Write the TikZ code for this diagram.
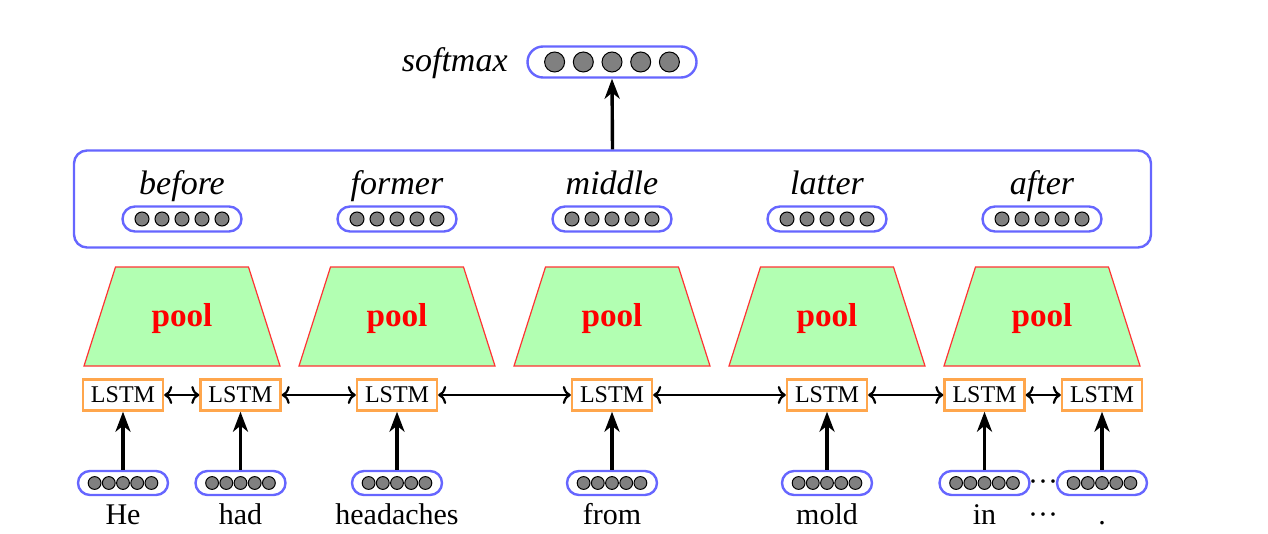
\documentclass[tikz,border=0pt]{standalone}
\usepackage{fontspec}
\setmainfont{Liberation Serif}
\usetikzlibrary{shapes.misc,arrows.meta}

\begin{document}
\begin{tikzpicture}[x=0.5pt,y=-0.5pt,
    vec/.style={draw=blue!60,line width=1.2pt,rounded rectangle,inner sep=0pt},
    dot/.style={fill=black!50,draw=black,line width=0.5pt},
    lstm/.style={draw=orange!70,line width=1.2pt,fill=white,inner sep=0pt,minimum width=40pt,minimum height=15.5pt,font=\fontsize{12}{14}\selectfont},
    pool/.style={fill=green!30,draw=red!80,line width=0.6pt},
    pooltxt/.style={anchor=base,text=red,font=\fontsize{16.6}{19}\selectfont\bfseries},
    word/.style={anchor=base,font=\fontsize{15}{18}\selectfont},
    lab/.style={anchor=base,font=\fontsize{17}{20}\selectfont\itshape},
    up/.style={-{Stealth[length=10pt,width=7.5pt,inset=3pt]},line width=1.7pt},
    bi/.style={{To[length=4pt,width=9pt]}-{To[length=4pt,width=9pt]},line width=1.1pt}]
  \useasboundingbox (0,0) rectangle (1268,534);

  % softmax on top
  \node[vec,minimum width=84.5pt,minimum height=15.5pt] (sm) at (612,62) {};
  \node[lab,anchor=base east,inner sep=0pt] (smlab) at (508,72) {softmax};
  \foreach \i in {-2,...,2}
    \filldraw[dot] ({612+\i*28.7},62) circle (5pt);

  % pooled features
  \node[draw=blue!60,line width=1.2pt,rounded corners=6.5pt,minimum width=538.5pt,minimum height=48.5pt] (feat) at (612.5,199) {};
  \draw[up] (feat.north) -- (sm.south);

  \foreach \x/\n in {182/before,397/former,612/middle,827/latter,1042/after}{
    \node[lab] (l\n) at (\x,195) {\n};
    \node[vec,minimum width=59.5pt,minimum height=12.5pt] (v\n) at (\x,219) {};
    \foreach \i in {-2,...,2}
      \filldraw[dot] ({\x+\i*20},219) circle (3.5pt);
    \filldraw[pool] ({\x-66.5},267) -- ({\x+66.5},267) -- ({\x+98},366) -- ({\x-98},366) -- cycle;
    \node[pooltxt] (p\n) at (\x,326) {pool};
  }

  % LSTM layer
  \node[lstm] (h1) at (123,395) {LSTM};
  \node[lstm] (h2) at (240.5,395) {LSTM};
  \node[lstm] (h3) at (397,395) {LSTM};
  \node[lstm] (h4) at (612,395) {LSTM};
  \node[lstm] (h5) at (827,395) {LSTM};
  \node[lstm] (h6) at (984.5,395) {LSTM};
  \node[lstm] (h7) at (1102,395) {LSTM};

  \draw[bi] (h1) -- (h2);
  \draw[bi] (h2) -- (h3);
  \draw[bi] (h3) -- (h4);
  \draw[bi] (h4) -- (h5);
  \draw[bi] (h5) -- (h6);
  \draw[bi] (h6) -- (h7);

  % word embeddings
  \foreach \k/\x/\w in {1/123/He,2/240.5/had,3/397/headaches,4/612/from,5/827/mold,6/984.5/in,7/1102/.}{
    \node[vec,minimum width=45pt,minimum height=12pt] (e\k) at (\x,483) {};
    \foreach \i in {-2,...,2}
      \filldraw[dot] ({\x+\i*14.2},483) circle (3.2pt);
    \node[word] (w\k) at (\x,524) {\w};
    \draw[up] (e\k) -- (h\k);
  }
  \node[word] (edots) at (1043,491) {\textperiodcentered\textperiodcentered\textperiodcentered};
  \node[word] (wdots) at (1043,524) {\textperiodcentered\textperiodcentered\textperiodcentered};
\end{tikzpicture}
\end{document}
